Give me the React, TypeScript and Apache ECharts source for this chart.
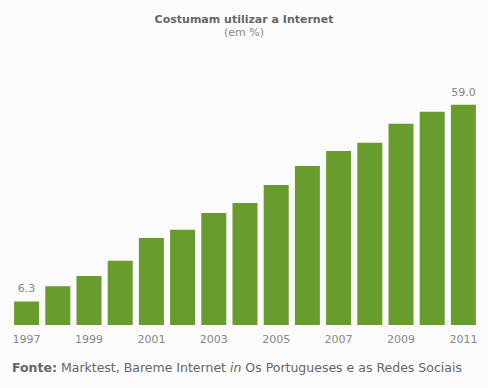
import React, { useEffect, useRef } from "react";
import * as echarts from "echarts";

const years = ["1997","1998","1999","2000","2001","2002","2003","2004","2005","2006","2007","2008","2009","2010","2011"];
const values = [6.3, 10.4, 13.1, 17.2, 23.3, 25.5, 30.0, 32.7, 37.5, 42.6, 46.6, 48.8, 53.9, 57.1, 59.0];
const titleText = "Costumam utilizar a Internet";
const subText = "(em %)";

export default function App() {
  const ref = useRef<HTMLDivElement>(null);
  useEffect(() => {
    const chart = echarts.init(ref.current!, null, { renderer: "svg" });
    const last = values.length - 1;
    chart.setOption({
      animation: false,
      backgroundColor: "#fbfbfb",
      title: {
        text: titleText,
        subtext: subText,
        left: "center",
        top: 9,
        itemGap: 2,
        textStyle: { fontFamily: "DejaVu Sans", fontSize: 11, fontWeight: "bold", color: "#666" },
        subtextStyle: { fontFamily: "DejaVu Sans", fontSize: 11, color: "#888" },
      },
      grid: { left: 11, right: 9, top: 101, bottom: 63 },
      xAxis: {
        type: "category",
        data: years,
        axisLine: { show: false },
        axisTick: { show: false },
        axisLabel: { interval: 1, color: "#888", fontFamily: "DejaVu Sans", fontSize: 11, margin: 9 },
      },
      yAxis: { type: "value", min: 0, max: 60, show: false, splitLine: { show: false } },
      series: [
        {
          type: "bar",
          data: values,
          barWidth: 25,
          itemStyle: { color: "#689d2e" },
          label: {
            show: true,
            position: "top",
            distance: 7,
            color: "#888",
            fontFamily: "DejaVu Sans",
            fontSize: 11,
            formatter: (p: any) => (p.dataIndex === 0 || p.dataIndex === last ? Number(p.value).toFixed(1) : ""),
          },
        },
      ],
      graphic: [
        {
          type: "text",
          left: 12,
          top: 361,
          style: {
            text: "{b|Fonte:} Marktest, Bareme Internet {i|in} Os Portugueses e as Redes Sociais",
            fontFamily: "DejaVu Sans",
            fontSize: 12.5,
            fill: "#666",
            rich: {
              b: { fontWeight: "bold", fontFamily: "DejaVu Sans", fontSize: 12.5, fill: "#666" },
              i: { fontStyle: "italic", fontFamily: "DejaVu Sans", fontSize: 12.5, fill: "#666" },
            },
          },
        },
      ],
    });
    return () => chart.dispose();
  }, []);
  return <div ref={ref} style={{ width: 488, height: 388, position: "absolute", left: 0, top: 0 }} />;
}
